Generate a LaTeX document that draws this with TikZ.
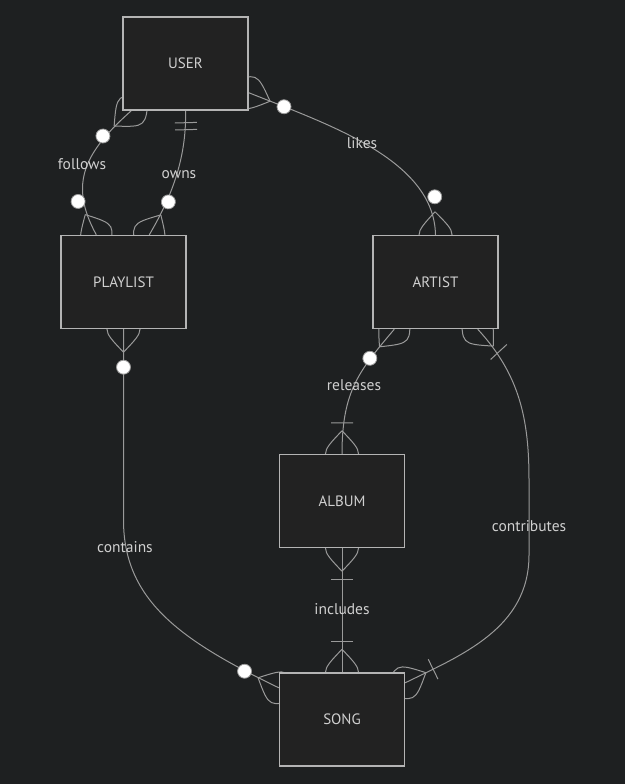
\documentclass[tikz,border=0pt]{standalone}
\usepackage{fontspec}
\setmainfont{PT Sans}
\usetikzlibrary{calc,decorations.markings}
\definecolor{bgc}{HTML}{1E2021}
\definecolor{boxfill}{HTML}{222222}
\definecolor{boxline}{HTML}{B4B4B4}
\definecolor{linec}{HTML}{9A9A9A}
\definecolor{txtc}{HTML}{D0D0D0}
\pgfdeclarelayer{bg}
\pgfdeclarelayer{edges}
\pgfsetlayers{bg,edges,main}
\newcommand\mklens[1]{\draw[mk] (#1*23,0) .. controls (0,22) .. (-#1*23,0) .. controls (0,-22) .. (#1*23,0);}
\newcommand\mkzm[1]{\mklens{#1}\draw[draw=linec, line width=0.8pt, fill=white] (#1*38,0) circle[radius=7];}
\newcommand\mkom[1]{\mklens{#1}\draw[mk] (#1*31,-11) -- (#1*31,11);}
\newcommand\mkoo[1]{\draw[mk] (#1*12,-11) -- (#1*12,11); \draw[mk] (#1*19,-11) -- (#1*19,11);}
\tikzset{
  ent/.style={draw=boxline, fill=boxfill, line width=1.4pt, minimum width=125pt, minimum height=93pt, inner sep=0pt, text=txtc, font=\fontsize{15}{18}\selectfont},
  lbl/.style={text=txtc, inner sep=1pt, font=\fontsize{15.5}{18}\selectfont},
  edge/.style={draw=linec, line width=1pt},
  mk/.style={draw=linec, line width=1pt},
  ends/.style 2 args={postaction={decorate, decoration={markings,
      mark=at position 0 with {#1{1}},
      mark=at position 0.9999 with {#2{-1}}}}}
}
\begin{document}
\begin{tikzpicture}[x=1pt,y=-1pt]
\useasboundingbox (0,0) rectangle (625,784);
\begin{pgfonlayer}{bg}
\fill[bgc] (0,0) rectangle (625,784);
\end{pgfonlayer}

\node[ent] (user) at (185.5,63.5) {USER};
\node[ent] (playlist) at (123.5,282) {PLAYLIST};
\node[ent] (artist) at (435.5,282) {ARTIST};
\node[ent] (album) at (342,501) {ALBUM};
\node[ent] (song) at (342,719.5) {SONG};

\begin{pgfonlayer}{edges}
% follows
\draw[edge, ends={\mkzm}{\mkzm}] ($(user.south west)+(9,0)$) .. controls (85,152) and (68,183) .. ($(playlist.north west)+(36,0)$);
% owns
\draw[edge, ends={\mkoo}{\mkzm}] (user.south) .. controls (187,165) and (166,206) .. ($(playlist.north west)+(89,0)$);
% likes
\draw[edge, ends={\mkzm}{\mkzm}] ($(user.south east)+(0,-18)$) .. controls (330,125) and (434,160) .. (artist.north);
% releases
\draw[edge, ends={\mkzm}{\mkom}] ($(artist.south west)+(22,0)$) .. controls (360,370) and (342,390) .. (album.north);
% contributes
\draw[edge, ends={\mkom}{\mkom}] ($(artist.south east)+(-21,0)$) .. controls (520,375) and (529,420) .. (529,480) -- (529,555) .. controls (529,628) and (462,655) .. ($(song.north east)+(0,10.5)$);
% contains
\draw[edge, ends={\mkzm}{\mkzm}] (playlist.south) -- (123.5,520) .. controls (123.5,600) and (180,640) .. ($(song.north west)+(0,15.5)$);
% includes
\draw[edge, ends={\mkom}{\mkom}] (album.south) -- (song.north);
\end{pgfonlayer}

\node[lbl] (lfollows) at (82,164) {follows};
\node[lbl] (lowns) at (179,175) {owns};
\node[lbl] (llikes) at (362,143) {likes};
\node[lbl] (lreleases) at (354,385) {releases};
\node[lbl] (lcontains) at (125,547) {contains};
\node[lbl] (lincludes) at (342,609) {includes};
\node[lbl] (lcontributes) at (529,526) {contributes};
\end{tikzpicture}
\end{document}
